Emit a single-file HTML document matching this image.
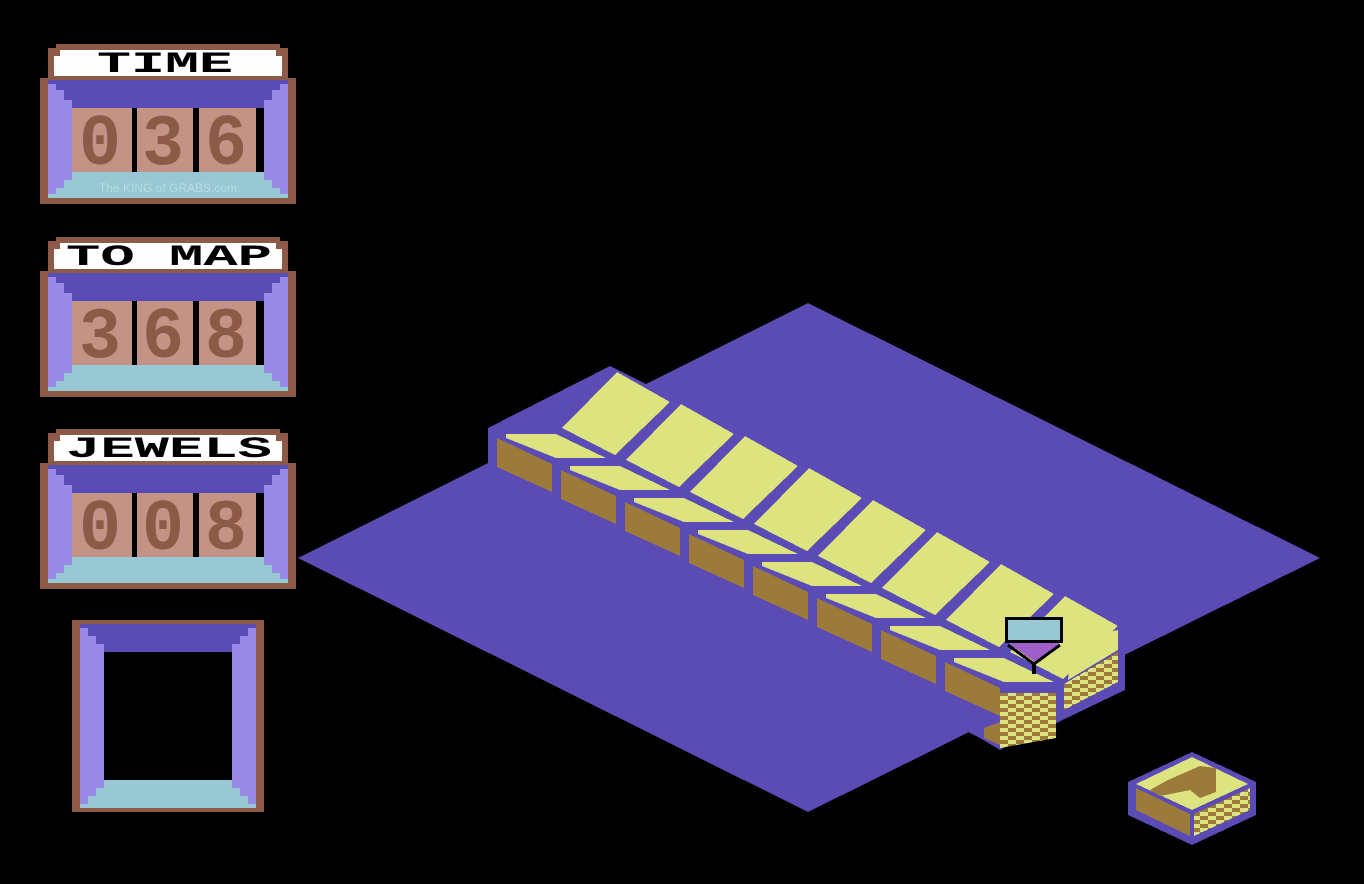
<!DOCTYPE html>
<html><head><meta charset="utf-8"><style>
html,body{margin:0;padding:0;background:#000;width:1364px;height:884px;overflow:hidden}
svg{display:block}
.hd{font-family:"Liberation Mono",monospace;font-weight:bold;font-size:30px;fill:#000}
.dg{font-family:"Liberation Mono",monospace;font-weight:bold;font-size:72px;fill:#8e5a48}
</style></head><body>
<svg width="1364" height="884" viewBox="0 0 1364 884" xmlns="http://www.w3.org/2000/svg" shape-rendering="crispEdges">
<defs>
<pattern id="chk" width="16" height="8" patternUnits="userSpaceOnUse">
<rect width="16" height="8" fill="#dde37f"/><rect width="8" height="4" fill="#9c7a3c"/><rect x="8" y="4" width="8" height="4" fill="#9c7a3c"/>
</pattern>
<g id="panel">
<polygon points="56,44 280,44 280,48 288,48 288,80 48,80 48,48 56,48" fill="#8e5a48"/>
<polygon points="60,50 276,50 276,56 282,56 282,76 54,76 54,56 60,56" fill="#fff"/>
<rect x="40" y="78" width="256" height="126" fill="#8e5a48"/>
<rect x="48" y="80" width="240" height="118" fill="#998ae8"/>
<polygon points="48,80 288,80 288,84 280,84 280,90 272,90 272,100 264,100 264,108 72,108 72,100 64,100 64,90 56,90 56,84 48,84" fill="#5a4bb5"/>
<polygon points="72,172 264,172 264,180 272,180 272,188 280,188 280,194 288,194 288,198 48,198 48,194 56,194 56,188 64,188 64,180 72,180" fill="#97c8d4"/>
<rect x="72" y="108" width="192" height="64" fill="#000"/>
<rect x="72" y="108" width="60" height="64" fill="#c39386"/>
<rect x="137" y="108" width="56" height="64" fill="#c39386"/>
<rect x="199" y="108" width="57" height="64" fill="#c39386"/>
</g>
</defs>

<polygon points="808,303 1320,558 808,812 298,558" fill="#5a4bb5"/>
<polygon points="488,428 610,366 1125,622 1125,690 1000,750 980,738 488,492" fill="#5a4bb5"/>

<g>
<g id="t0">
<polygon points="617,372 670,402 615,455 562,428" fill="#dde37f"/>
<polygon points="506,434 556,434 606,458 556,458 506,438" fill="#dde37f"/>
<polygon points="497,438 552,464 552,492 497,467" fill="#9c7a3c"/>
</g>
<use href="#t0" transform="translate(64,32)"/>
<use href="#t0" transform="translate(128,64)"/>
<use href="#t0" transform="translate(192,96)"/>
<use href="#t0" transform="translate(256,128)"/>
<use href="#t0" transform="translate(320,160)"/>
<use href="#t0" transform="translate(384,192)"/>
<use href="#t0" transform="translate(448,224)"/>
</g>
<polygon points="1000,693 1056,693 1056,738 1000,748" fill="url(#chk)"/>
<polygon points="984,728 1000,722 1000,745 984,738" fill="#9c7a3c"/>
<polygon points="1064,684 1118,652 1118,682 1064,710" fill="url(#chk)"/>
<polygon points="1072,640 1118,630 1118,650 1068,680" fill="#dde37f"/>

<rect x="1005" y="617" width="58" height="26" fill="#000"/>
<rect x="1008" y="620" width="52" height="20" fill="#97c8d4"/>
<polygon points="1008,643 1060,643 1035,662" fill="#9f5fc8"/>
<polyline points="1008,645 1034,664 1060,645" fill="none" stroke="#000" stroke-width="3"/>
<rect x="1032" y="662" width="4" height="12" fill="#000"/>

<polygon points="1192,752 1256,782 1256,815 1192,845 1128,815 1128,782" fill="#5a4bb5"/>
<polygon points="1192,757 1248,784 1192,810 1136,784" fill="#dde37f"/>
<polygon points="1136,788 1190,814 1190,836 1136,810" fill="#9c7a3c"/>
<polygon points="1194,814 1250,788 1250,810 1194,836" fill="url(#chk)"/>
<polygon points="1168,780 1200,766 1216,768 1216,792 1200,798 1190,790 1160,796 1150,790" fill="#9c7a3c"/>

<use href="#panel"/>
<use href="#panel" transform="translate(0,193)"/>
<use href="#panel" transform="translate(0,385)"/>
<text class="hd" x="97" y="72" textLength="136" lengthAdjust="spacingAndGlyphs">TIME</text>
<text class="hd" x="66" y="265" textLength="206" lengthAdjust="spacingAndGlyphs">TO MAP</text>
<text class="hd" x="66" y="457" textLength="206" lengthAdjust="spacingAndGlyphs">JEWELS</text>
<g class="dg">
<text x="79" y="164" textLength="42" lengthAdjust="spacingAndGlyphs">0</text><text x="142" y="164" textLength="42" lengthAdjust="spacingAndGlyphs">3</text><text x="205" y="164" textLength="42" lengthAdjust="spacingAndGlyphs">6</text>
<text x="79" y="357" textLength="42" lengthAdjust="spacingAndGlyphs">3</text><text x="142" y="357" textLength="42" lengthAdjust="spacingAndGlyphs">6</text><text x="205" y="357" textLength="42" lengthAdjust="spacingAndGlyphs">8</text>
<text x="79" y="549" textLength="42" lengthAdjust="spacingAndGlyphs">0</text><text x="142" y="549" textLength="42" lengthAdjust="spacingAndGlyphs">0</text><text x="205" y="549" textLength="42" lengthAdjust="spacingAndGlyphs">8</text>
</g>
<text x="168" y="192" text-anchor="middle" font-family="Liberation Sans,sans-serif" font-size="12" fill="#b8dce4">The KING of GRABS.com</text>

<rect x="72" y="620" width="192" height="192" fill="#8e5a48"/>
<rect x="80" y="624" width="176" height="184" fill="#998ae8"/>
<polygon points="80,624 256,624 256,628 248,628 248,636 240,636 240,644 232,644 232,652 104,652 104,644 96,644 96,636 88,636 88,628 80,628" fill="#5a4bb5"/>
<polygon points="104,780 232,780 232,788 240,788 240,796 248,796 248,804 256,804 256,808 80,808 80,804 88,804 88,796 96,796 96,788 104,788" fill="#97c8d4"/>
<rect x="104" y="652" width="128" height="128" fill="#000"/>
</svg>
</body></html>
